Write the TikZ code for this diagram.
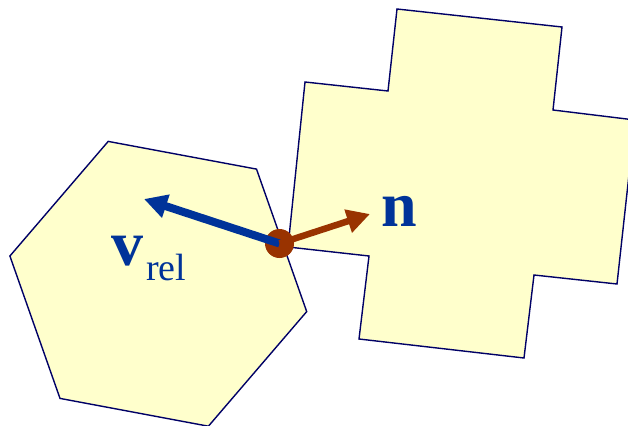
\documentclass[tikz,border=0pt]{standalone}
\usepackage{fontspec}
\setmainfont{Liberation Serif}
\usepackage{tikz}
\usetikzlibrary{arrows.meta}
\definecolor{bodyfill}{RGB}{255, 255, 204}
\definecolor{bodyline}{RGB}{0, 0, 102}
\definecolor{velblue}{RGB}{0, 51, 153}
\definecolor{normalbrown}{RGB}{153, 51, 0}

\begin{document}
\begin{tikzpicture}[
    x=1pt, y=-1pt,
    body/.style={fill=bodyfill, draw=bodyline, line width=1.4pt, line join=miter},
    contact/.style={circle, fill=normalbrown, inner sep=0pt, minimum size=29pt},
    vecarrow/.style={line width=#1, -{Triangle[length=23pt, width=23pt]}},
    veclabel/.style={text=velblue, inner sep=0pt, font=\fontsize{64}{64}\selectfont\bfseries}
]
    \useasboundingbox (0,0) rectangle (628,425);

    % Two colliding bodies
    \draw[body] (108.2,141.4) -- (256.5,169.1) -- (306.7,311.6) -- (208.4,426.2)
        -- (60.0,398.4) -- (9.9,256.0) -- cycle;
    \draw[body] (397,9) -- (562,27) -- (553,110) -- (635,120) -- (617,284)
        -- (534,275) -- (524,358) -- (359,339) -- (369,256) -- (288,247)
        -- (305,82) -- (388,91) -- cycle;

    % Contact point and vectors
    \node[contact] (contact) at (279.5,243.5) {};
    \coordinate (vtip) at (144,199);
    \coordinate (ntip) at (370,214);
    \draw[vecarrow=8pt, velblue] (contact.center) -- (vtip);
    \draw[vecarrow=6.5pt, normalbrown] (contact.center) -- (ntip);

    % Labels
    \node[veclabel, anchor=base west] (vrel) at (111,265)
        {v\hspace{3pt}{\fontsize{38}{38}\selectfont\mdseries\raisebox{-15pt}{rel}}};
    \node[veclabel, anchor=base west] (nlabel) at (381,226) {n};
\end{tikzpicture}
\end{document}
